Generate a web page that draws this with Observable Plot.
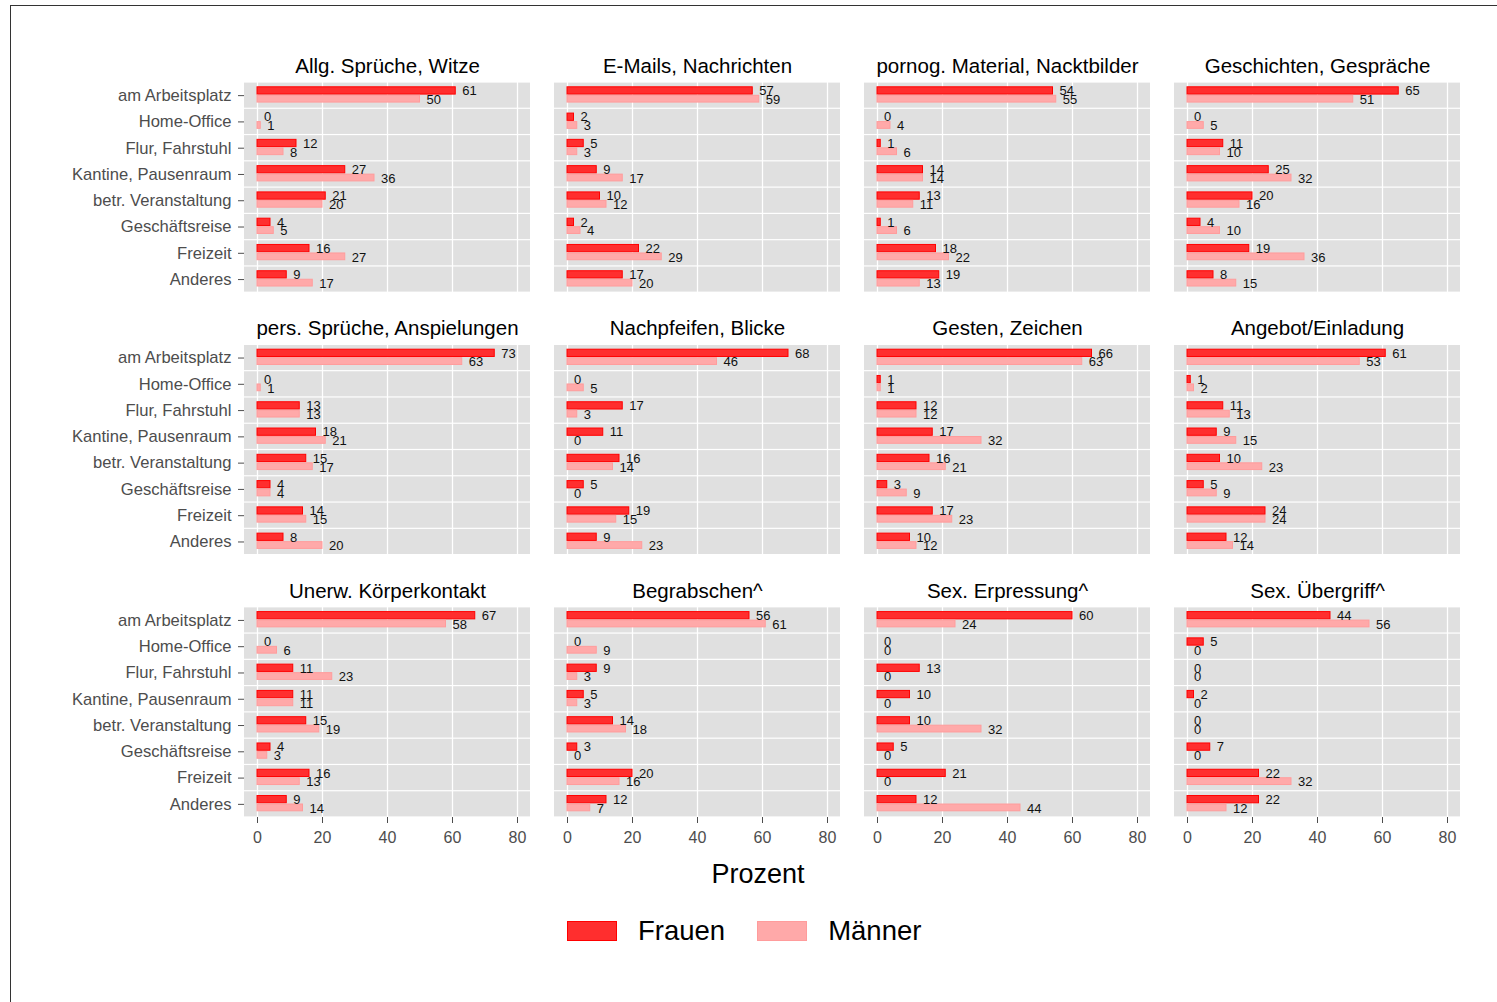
<!DOCTYPE html>
<html>
<head>
<meta charset="utf-8">
<script src="https://cdn.jsdelivr.net/npm/d3@7"></script>
<script src="https://cdn.jsdelivr.net/npm/@observablehq/plot@0.6"></script>
<style>
  html, body { margin: 0; padding: 0; background: #fff; }
  body { width: 1497px; height: 1002px; position: relative; overflow: hidden; font-family: "Liberation Sans", Arial, sans-serif; }
  #frame { position: absolute; left: 10px; top: 5px; width: 1500px; height: 1010px; border-top: 1px solid #333; border-left: 1px solid #333; }
  #chart { position: absolute; left: 0; top: 0; }
  #xlabel { position: absolute; top: 858px; left: 758px; transform: translateX(-50%); font-size: 27px; color: #000; line-height: 32px; white-space: nowrap; }
  #legend { position: absolute; top: 914px; left: 567px; display: flex; align-items: center; font-size: 27.5px; color: #000; line-height: 34px; }
  .sw { width: 50px; height: 20px; box-sizing: border-box; }
  .item { display: flex; align-items: center; }
</style>
</head>
<body>
<div id="frame"></div>
<div id="chart"></div>
<div id="xlabel">Prozent</div>
<div id="legend"></div>
<script>
const categories = ["am Arbeitsplatz", "Home-Office", "Flur, Fahrstuhl", "Kantine, Pausenraum", "betr. Veranstaltung", "Geschäftsreise", "Freizeit", "Anderes"];
const facetTitles = ["Allg. Sprüche, Witze", "E-Mails, Nachrichten", "pornog. Material, Nacktbilder", "Geschichten, Gespräche",
  "pers. Sprüche, Anspielungen", "Nachpfeifen, Blicke", "Gesten, Zeichen", "Angebot/Einladung",
  "Unerw. Körperkontakt", "Begrabschen^", "Sex. Erpressung^", "Sex. Übergriff^"];
const seriesNames = ["Frauen", "Männer"];
const frauen = [
  [61, 0, 12, 27, 21, 4, 16, 9],
  [57, 2, 5, 9, 10, 2, 22, 17],
  [54, 0, 1, 14, 13, 1, 18, 19],
  [65, 0, 11, 25, 20, 4, 19, 8],
  [73, 0, 13, 18, 15, 4, 14, 8],
  [68, 0, 17, 11, 16, 5, 19, 9],
  [66, 1, 12, 17, 16, 3, 17, 10],
  [61, 1, 11, 9, 10, 5, 24, 12],
  [67, 0, 11, 11, 15, 4, 16, 9],
  [56, 0, 9, 5, 14, 3, 20, 12],
  [60, 0, 13, 10, 10, 5, 21, 12],
  [44, 5, 0, 2, 0, 7, 22, 22]
];
const maenner = [
  [50, 1, 8, 36, 20, 5, 27, 17],
  [59, 3, 3, 17, 12, 4, 29, 20],
  [55, 4, 6, 14, 11, 6, 22, 13],
  [51, 5, 10, 32, 16, 10, 36, 15],
  [63, 1, 13, 21, 17, 4, 15, 20],
  [46, 5, 3, 0, 14, 0, 15, 23],
  [63, 1, 12, 32, 21, 9, 23, 12],
  [53, 2, 13, 15, 23, 9, 24, 14],
  [58, 6, 23, 11, 19, 3, 13, 14],
  [61, 9, 3, 3, 18, 0, 16, 7],
  [24, 0, 0, 0, 32, 0, 0, 44],
  [56, 0, 0, 0, 0, 0, 32, 12]
];
const xTicks = [0, 20, 40, 60, 80];
const xDomain = [-4, 84];
const nCols = 4;

const colors = {Frauen: {fill: "#FF2E2E", stroke: "#FF0000"}, "Männer": {fill: "#FFA9A9", stroke: "#FF9C9C"}};

const facetRows = facetTitles.map((t, i) => ({title: t, fx: i % nCols, fy: Math.floor(i / nCols)}));
const bgRows = facetRows.flatMap(f => categories.map(c => ({fx: f.fx, fy: f.fy, cat: c})));
const gridRows = facetRows.flatMap(f => xTicks.map(t => ({fx: f.fx, fy: f.fy, t})));
function rowsFor(values, sex) {
  return facetRows.flatMap((f, i) => categories.map((c, j) => ({fx: f.fx, fy: f.fy, cat: c, sex, v: values[i][j]})));
}
const fRows = rowsFor(frauen, seriesNames[0]);
const mRows = rowsFor(maenner, seriesNames[1]);

const plot = Plot.plot({
  width: 1497,
  height: 850,
  marginTop: 82,
  marginBottom: 33,
  marginLeft: 244,
  marginRight: 37,
  style: {fontFamily: "'Liberation Sans', Arial, sans-serif", background: "transparent", overflow: "visible"},
  fx: {domain: [0, 1, 2, 3], paddingInner: 24 / 310, paddingOuter: 0, round: false, axis: null},
  fy: {domain: [0, 1, 2], paddingInner: 52.2 / 262.5, paddingOuter: 0, round: false, axis: null},
  x: {domain: xDomain},
  y: {domain: categories, padding: 0, round: false},
  marks: [
    Plot.barX(bgRows, {fx: "fx", fy: "fy", y: "cat", x1: xDomain[0], x2: xDomain[1], fill: "#E0E0E0", insetTop: 0.6, insetBottom: 0.6}),
    Plot.ruleX(gridRows, {fx: "fx", fy: "fy", x: "t", stroke: "#fff", strokeWidth: 1.3}),
    Plot.barX(fRows.filter(d => d.v > 0), {fx: "fx", fy: "fy", y: "cat", x: "v", fill: colors.Frauen.fill, stroke: colors.Frauen.stroke, strokeWidth: 1, insetTop: 4.8, insetBottom: 14.2}),
    Plot.barX(mRows.filter(d => d.v > 0), {fx: "fx", fy: "fy", y: "cat", x: "v", fill: colors["Männer"].fill, stroke: colors["Männer"].stroke, strokeWidth: 1, insetTop: 13.3, insetBottom: 6.2}),
    Plot.text(fRows, {fx: "fx", fy: "fy", y: "cat", x: "v", text: d => String(d.v), textAnchor: "start", dx: 6.5, dy: -4.6, fontSize: 13, fill: "#111"}),
    Plot.text(mRows, {fx: "fx", fy: "fy", y: "cat", x: "v", text: d => String(d.v), textAnchor: "start", dx: 6.5, dy: 4.2, fontSize: 13, fill: "#111"}),
    Plot.text(facetRows, {fx: "fx", fy: "fy", text: "title", frameAnchor: "top", lineAnchor: "middle", dy: -16, fontSize: 20.5, fill: "#000"}),
    Plot.axisY({fontSize: 16.6, tickSize: 6, tickPadding: 7, color: "#4d4d4d", label: null}),
    Plot.axisX({ticks: xTicks, fontSize: 16, tickSize: 6, tickPadding: 8, color: "#4d4d4d", label: null})
  ]
});
document.getElementById("chart").appendChild(plot);

const legend = document.getElementById("legend");
seriesNames.forEach((s, i) => {
  const item = document.createElement("div");
  item.className = "item";
  item.style.marginRight = i === 0 ? "32px" : "0";
  const sw = document.createElement("div");
  sw.className = "sw";
  sw.style.background = colors[s].fill;
  sw.style.border = "1.5px solid " + colors[s].stroke;
  const lab = document.createElement("span");
  lab.textContent = s;
  lab.style.marginLeft = "21px";
  item.appendChild(sw);
  item.appendChild(lab);
  legend.appendChild(item);
});
</script>
</body>
</html>
